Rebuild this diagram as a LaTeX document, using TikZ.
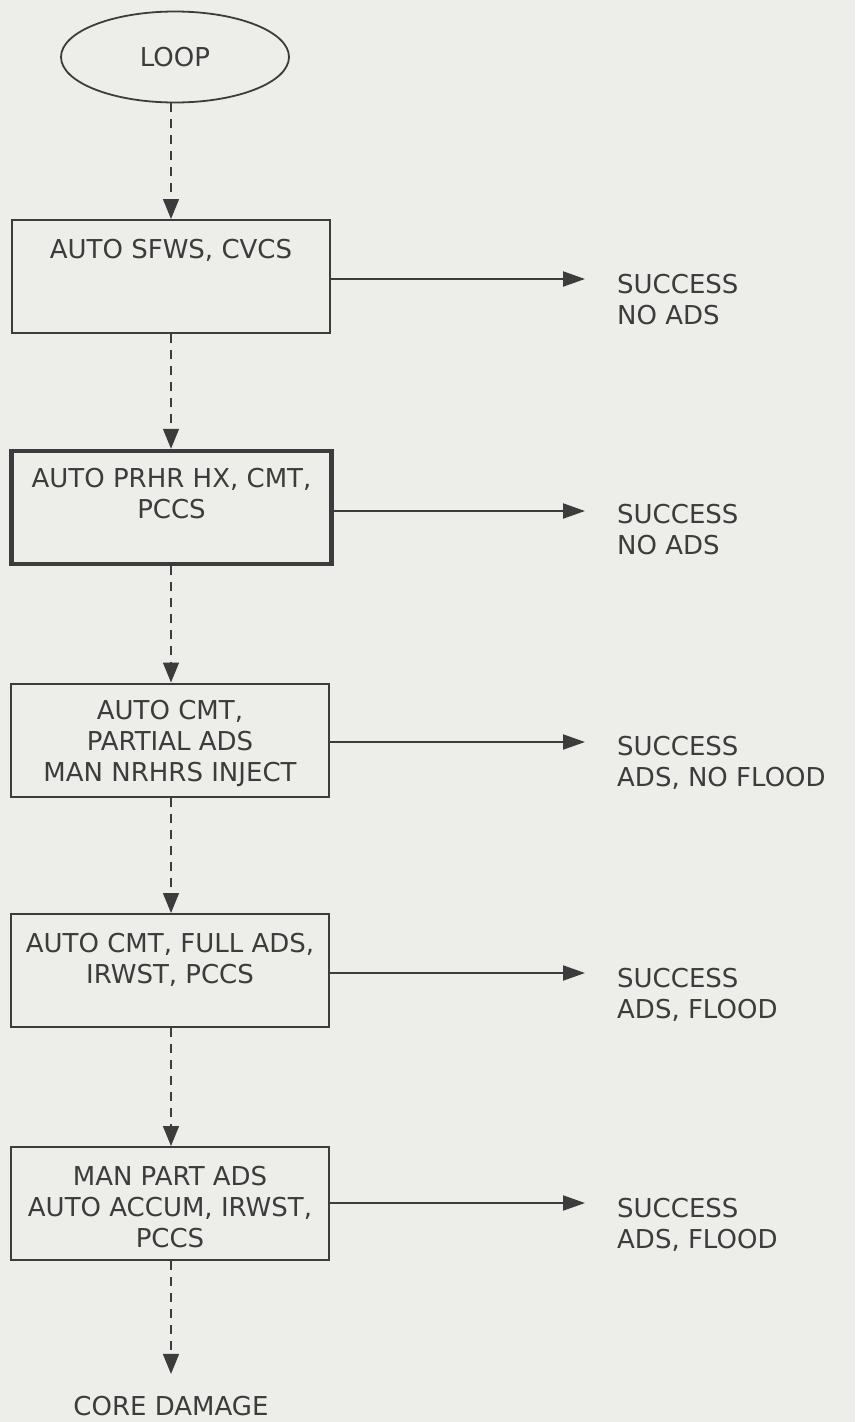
\documentclass[tikz,border=0pt]{standalone}
\usepackage{fontspec}
\setmainfont{DejaVu Sans}
\usetikzlibrary{arrows.meta,shapes.geometric,calc}
\definecolor{bg}{RGB}{237,237,234}
\definecolor{ink}{RGB}{60,60,60}
\begin{document}
\begin{tikzpicture}[x=1pt,y=-1pt,
  every node/.style={text=ink, font=\fontsize{26}{31}\selectfont, inner sep=0pt},
  stepbox/.style={draw=ink, line width=2pt, minimum width=318pt, minimum height=113pt},
  keybox/.style={stepbox, line width=4.5pt, minimum width=320pt},
  flow/.style={draw=ink, line width=1.4pt, dash pattern=on 9pt off 7pt, -{Triangle[length=20pt,width=16pt]}},
  outarrow/.style={draw=ink, line width=2pt, -{Triangle[length=22pt,width=15pt]}},
  lbl/.style={align=center, anchor=north},
  res/.style={align=left, anchor=north west}]
\fill[bg] (0,0) rectangle (855,1422);
\useasboundingbox (0,0) rectangle (855,1422);

% start
\node[draw=ink, line width=1.8pt, ellipse, minimum width=228pt, minimum height=91pt] (loop) at (175,57) {LOOP};

% boxes
\node[stepbox] (b1) at (171,276.5) {};
\node[keybox]  (b2) at (171.5,507.5) {};
\node[stepbox] (b3) at (170,740) {};
\node[stepbox] (b4) at (170,970.5) {};
\node[stepbox] (b5) at (170,1203.5) {};

% box texts
\node[lbl] (t1) at ($(b1.north)+(0,19.5)$) {AUTO SFWS, CVCS};
\node[lbl] (t2) at ($(b2.north)+(0,19)$) {AUTO PRHR HX, CMT,\\PCCS};
\node[lbl] (t3) at ($(b3.north)+(0,17.5)$) {AUTO CMT,\\PARTIAL ADS\\MAN NRHRS INJECT};
\node[lbl] (t4) at ($(b4.north)+(0,20)$) {AUTO CMT, FULL ADS,\\IRWST, PCCS};
\node[lbl] (t5) at ($(b5.north)+(0,19.5)$) {MAN PART ADS\\AUTO ACCUM, IRWST,\\PCCS};

% end
\node (cd) at (171,1406) {CORE DAMAGE};

% results
\node[res] (r1) at (617,273.5) {SUCCESS\\NO ADS};
\node[res] (r2) at (617,503.5) {SUCCESS\\NO ADS};
\node[res] (r3) at (617,735.5) {SUCCESS\\ADS, NO FLOOD};
\node[res] (r4) at (617,967.5) {SUCCESS\\ADS, FLOOD};
\node[res] (r5) at (617,1197.5) {SUCCESS\\ADS, FLOOD};

\coordinate (p1) at (585,279);
\coordinate (p2) at (585,511);
\coordinate (p3) at (585,742);
\coordinate (p4) at (585,973);
\coordinate (p5) at (585,1203);

% success arrows
\draw[outarrow] (b1.east |- p1) -- (p1);
\draw[outarrow] (b2.east |- p2) -- (p2);
\draw[outarrow] (b3.east |- p3) -- (p3);
\draw[outarrow] (b4.east |- p4) -- (p4);
\draw[outarrow] (b5.east |- p5) -- (p5);

% failure path
\draw[flow] (b1.north |- loop.south) -- (b1.north);
\draw[flow] (b1.south) -- (b2.north -| b1.south);
\draw[flow] (b2.south -| b1.south) -- (b3.north -| b1.south);
\draw[flow] (b3.south -| b1.south) -- (b4.north -| b1.south);
\draw[flow] (b4.south -| b1.south) -- (b5.north -| b1.south);
\draw[flow, shorten >=22pt] (b5.south -| b1.south) -- (cd.north -| b1.south);
\end{tikzpicture}
\end{document}
